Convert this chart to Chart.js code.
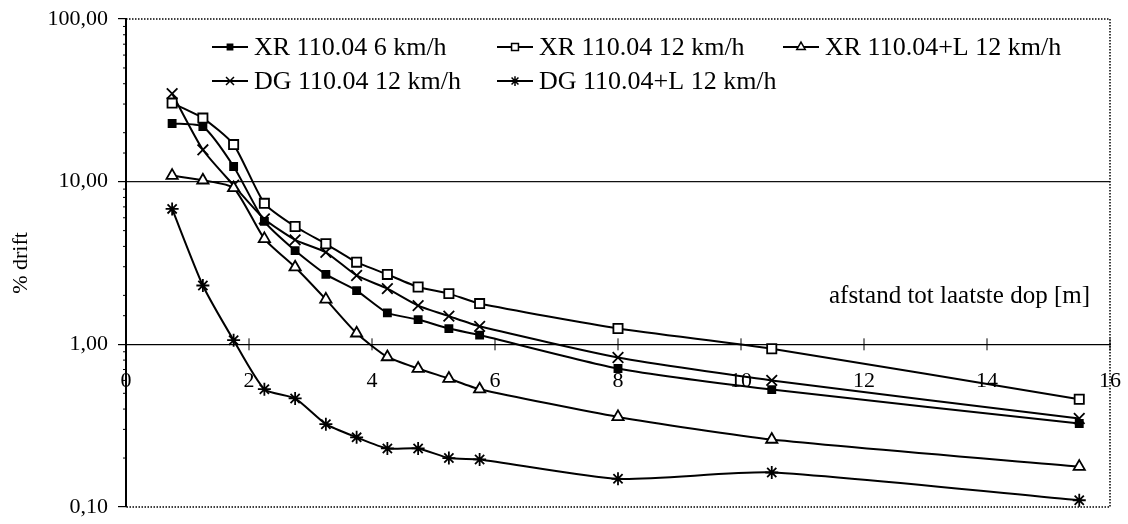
<!DOCTYPE html>
<html>
<head>
<meta charset="utf-8">
<script src="https://cdn.jsdelivr.net/npm/chart.js@4.4.1/dist/chart.umd.min.js"></script>
<style>
  html, body { margin: 0; padding: 0; background: #fff; }
  canvas { display: block; }
</style>
</head>
<body>
<canvas id="chart" width="1128" height="524"></canvas>
<script>
// distances from the last nozzle [m]
const distances = [0.75, 1.25, 1.75, 2.25, 2.75, 3.25, 3.75, 4.25, 4.75, 5.25, 5.75, 8, 10.5, 15.5]

const seriesLabels = [
    'XR 110.04 6 km/h',
    'XR 110.04 12 km/h',
    'XR 110.04+L 12 km/h',
    'DG 110.04 12 km/h',
    'DG 110.04+L 12 km/h'
]

// % drift per series
const xr6 = [22.8, 21.8, 12.4, 5.7, 3.77, 2.69, 2.14, 1.56, 1.42, 1.25, 1.14, 0.71, 0.527, 0.326]
const xr12 = [30.4, 24.6, 16.9, 7.36, 5.3, 4.15, 3.2, 2.69, 2.25, 2.05, 1.78, 1.25, 0.94, 0.46]
const xrL12 = [10.9, 10.2, 9.15, 4.45, 2.98, 1.89, 1.17, 0.836, 0.71, 0.616, 0.53, 0.358, 0.26, 0.177]
const dg12 = [34.8, 15.7, 9.5, 5.9, 4.39, 3.68, 2.65, 2.2, 1.73, 1.49, 1.29, 0.83, 0.6, 0.35]
const dgL12 = [6.8, 2.3, 1.06, 0.53, 0.465, 0.323, 0.268, 0.229, 0.229, 0.2, 0.196, 0.149, 0.163, 0.11]

const xTickValues = [0, 2, 4, 6, 8, 10, 12, 14, 16]
const yMajorTicks = [0.1, 1, 10, 100]

const xTitle = 'afstand tot laatste dop [m]'
const yTitle = '% drift'

const FONT = "'Liberation Serif', 'Times New Roman', serif"

const toPoints = (values) => values.map((v, i) => ({ x: distances[i], y: v }))

const isMajor = (v) => yMajorTicks.some(m => Math.abs(m - v) < 1e-9)

// scales must not push the plot area in for overflowing labels
const noOverflow = (scale) => {
    scale.paddingLeft = 0
    scale.paddingRight = 0
    scale.paddingTop = 0
    scale.paddingBottom = 0
}

const markerStyles = [
    { pointStyle: 'rect', pointRadius: 5, fill: '#000' },
    { pointStyle: 'rect', pointRadius: 6.5, fill: '#fff' },
    { pointStyle: 'triangle', pointRadius: 6.5, fill: '#fff' },
    { pointStyle: 'crossRot', pointRadius: 7.5, fill: '#fff' },
    { pointStyle: 'star', pointRadius: 6.5, fill: '#fff' }
]

const seriesValues = [xr6, xr12, xrL12, dg12, dgL12]

const datasets = seriesValues.map((values, i) => ({
    label: seriesLabels[i],
    data: toPoints(values),
    borderColor: '#000',
    borderWidth: 2,
    backgroundColor: markerStyles[i].fill,
    pointStyle: markerStyles[i].pointStyle,
    pointRadius: markerStyles[i].pointRadius,
    pointBorderColor: '#000',
    pointBackgroundColor: markerStyles[i].fill,
    pointBorderWidth: 1.8,
    tension: 0.2,
    fill: false
}))

// dotted frame, axis cross ticks, minor log ticks, inner legend and x title
const decorations = {
    id: 'decorations',
    afterDraw(chart) {
        const { ctx, chartArea, scales } = chart
        const x = scales.x
        const y = scales.y
        ctx.save()

        // dotted frame on top, right and bottom
        ctx.strokeStyle = '#000'
        ctx.lineWidth = 1.5
        ctx.setLineDash([1.5, 1.5])
        ctx.beginPath()
        ctx.moveTo(chartArea.left, chartArea.top)
        ctx.lineTo(chartArea.right, chartArea.top)
        ctx.lineTo(chartArea.right, chartArea.bottom)
        ctx.lineTo(chartArea.left, chartArea.bottom)
        ctx.stroke()
        ctx.setLineDash([])

        // "+" tick marks along the x axis (which crosses at y = 1)
        const yAxis = y.getPixelForValue(1)
        ctx.lineWidth = 1
        x.ticks.forEach(t => {
            const px = x.getPixelForValue(t.value)
            ctx.beginPath()
            ctx.moveTo(px, yAxis - 6)
            ctx.lineTo(px, yAxis + 6)
            ctx.stroke()
        })

        // minor log ticks on the y axis
        y.ticks.forEach(t => {
            if (isMajor(t.value)) return
            const py = y.getPixelForValue(t.value)
            ctx.beginPath()
            ctx.moveTo(chartArea.left - 3, py)
            ctx.lineTo(chartArea.left, py)
            ctx.stroke()
        })

        // legend inside the plot, three columns
        const cols = [212, 497, 783]
        const rows = [47, 81]
        ctx.font = `26px ${FONT}`
        ctx.textBaseline = 'middle'
        ctx.textAlign = 'left'
        ctx.fillStyle = '#000'
        chart.data.datasets.forEach((ds, i) => {
            const lx = cols[i % 3]
            const ly = rows[Math.floor(i / 3)]
            ctx.strokeStyle = '#000'
            ctx.lineWidth = 2
            ctx.beginPath()
            ctx.moveTo(lx, ly)
            ctx.lineTo(lx + 36, ly)
            ctx.stroke()
            ctx.lineWidth = 1.5
            ctx.fillStyle = ds.pointBackgroundColor
            Chart.helpers.drawPoint(ctx, {
                pointStyle: ds.pointStyle,
                radius: ds.pointRadius * 0.75,
                rotation: 0,
                borderWidth: 1.5
            }, lx + 18, ly)
            ctx.fillStyle = '#000'
            ctx.fillText(ds.label, lx + 42, ly + 1)
        })

        // axis title sitting inside the plot
        ctx.font = `25px ${FONT}`
        ctx.textAlign = 'right'
        ctx.fillText(xTitle, 1090, 296)

        ctx.restore()
    }
}

const chart = new Chart(document.getElementById('chart'), {
    type: 'line',
    data: { datasets: datasets },
    plugins: [decorations],
    options: {
        responsive: false,
        animation: false,
        devicePixelRatio: 1,
        layout: { padding: { top: 19, right: 18, bottom: 17, left: 0 } },
        plugins: {
            legend: { display: false },
            tooltip: { enabled: false }
        },
        scales: {
            x: {
                type: 'linear',
                position: { y: 1 },
                min: 0,
                max: 16,
                afterBuildTicks: (scale) => {
                    scale.ticks = xTickValues.map(v => ({ value: v }))
                },
                afterFit: noOverflow,
                grid: { display: false, drawTicks: false },
                border: { display: true, color: '#000', width: 1 },
                ticks: {
                    color: '#000',
                    padding: 24,
                    maxRotation: 0,
                    autoSkip: false,
                    font: { family: FONT, size: 22 }
                }
            },
            y: {
                type: 'logarithmic',
                min: 0.1,
                max: 100,
                afterFit: (scale) => {
                    scale.width = 126
                    noOverflow(scale)
                },
                border: { display: true, color: '#000', width: 2 },
                grid: {
                    color: (ctx) => {
                        const v = ctx.tick && ctx.tick.value
                        return (v === 1 || v === 10) ? '#111' : 'rgba(0,0,0,0)'
                    },
                    lineWidth: 1.2,
                    tickLength: 8,
                    tickColor: (ctx) => isMajor(ctx.tick.value) ? '#000' : 'rgba(0,0,0,0)'
                },
                ticks: {
                    color: '#000',
                    padding: 10,
                    autoSkip: false,
                    font: { family: FONT, size: 22 },
                    callback: (value) => isMajor(value) ? value.toFixed(2).replace('.', ',') : ''
                },
                title: {
                    display: true,
                    text: yTitle,
                    color: '#000',
                    padding: { top: 8, bottom: 4 },
                    font: { family: FONT, size: 22 }
                }
            }
        }
    }
})
</script>
</body>
</html>
